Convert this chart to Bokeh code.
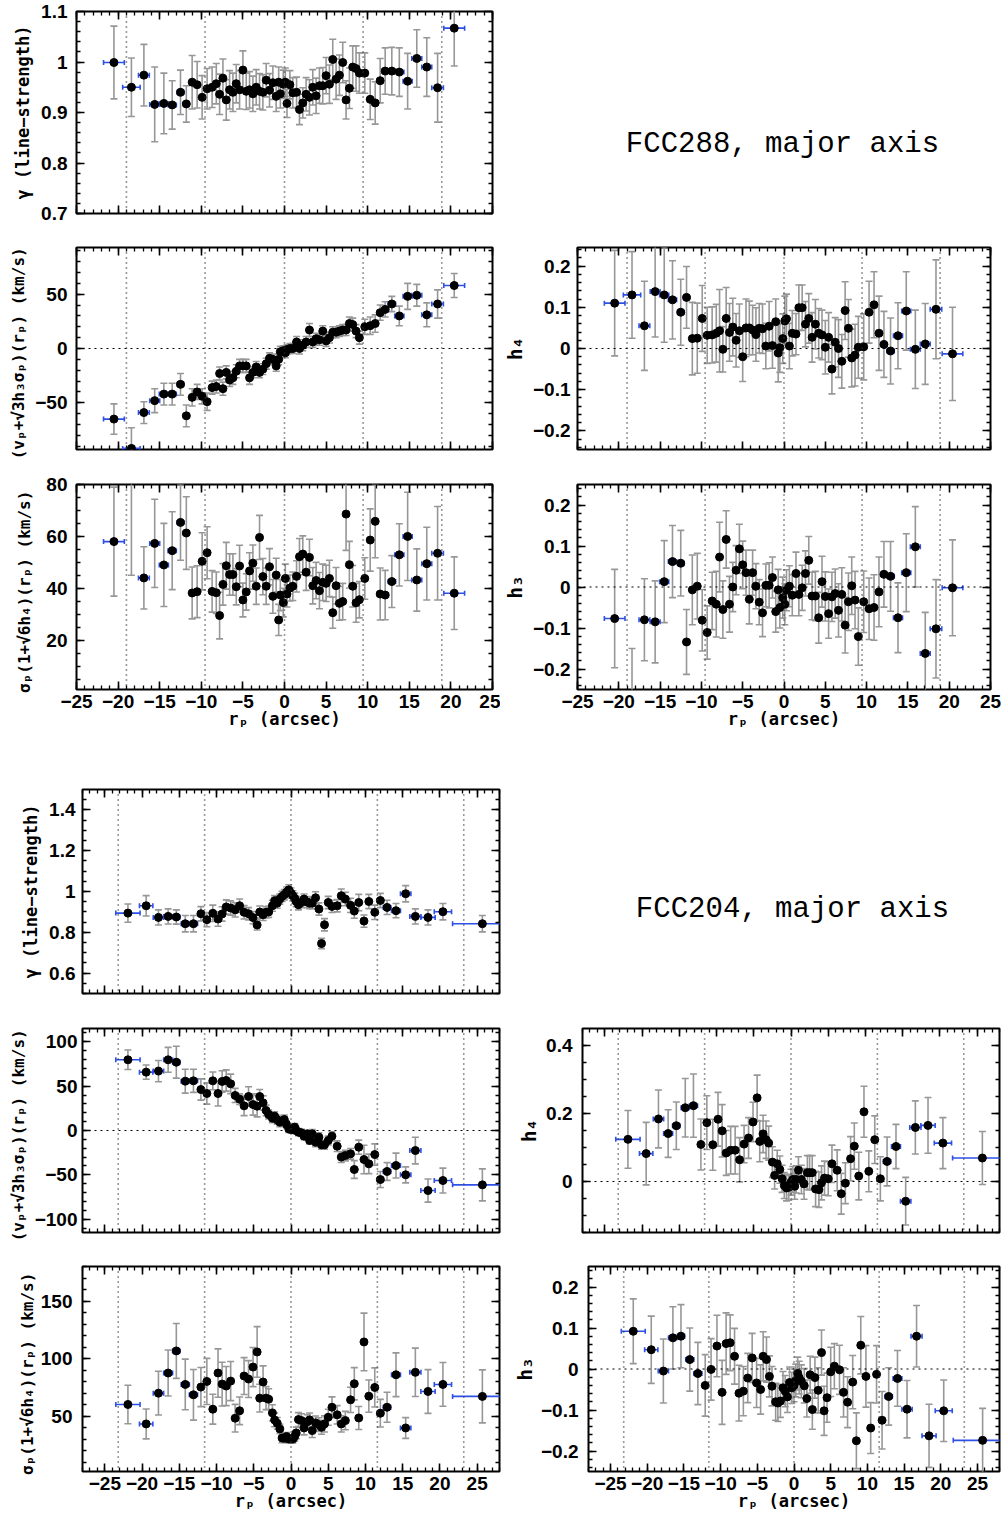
import numpy as np
from bokeh.plotting import figure
from bokeh.models import Range1d, FixedTicker, LinearAxis, Span, Label, ColumnDataSource, Spacer
from bokeh.layouts import column, row
from bokeh.embed import file_html
from bokeh.resources import INLINE

# ---------------- FCC288, major axis ----------------
r288 = [
    -20.5, -18.4, -16.9, -15.6, -14.5, -13.5, -12.5, -11.8, -11.1, -10.5,
    -9.9, -9.3, -8.7, -8.2, -7.8, -7.4, -7.0, -6.6, -6.2, -5.8,
    -5.4, -5.0, -4.6, -4.2, -3.8, -3.4, -3.0, -2.6, -2.2, -1.8,
    -1.4, -1.0, -0.7, -0.5, -0.15, 0.1, 0.3, 0.65, 1.0, 1.45,
    1.8, 2.2, 2.6, 3.0, 3.4, 3.8, 4.2, 4.6, 5.0, 5.4,
    5.8, 6.2, 6.6, 7.0, 7.4, 7.8, 8.2, 8.6, 9.0, 9.65,
    10.3, 10.9, 11.5, 12.1, 12.9, 13.8, 14.8, 15.9, 17.1, 18.4,
    20.4]
xe288 = [
    1.25, 1.05, 0.65, 0.6, 0.55, 0.5, 0.4, 0.35, 0, 0,
    0, 0, 0, 0, 0, 0, 0, 0, 0, 0,
    0, 0, 0, 0, 0, 0, 0, 0, 0, 0,
    0, 0, 0, 0, 0, 0, 0, 0, 0, 0,
    0, 0, 0, 0, 0, 0, 0, 0, 0, 0,
    0, 0, 0, 0, 0, 0, 0, 0, 0, 0,
    0, 0, 0.35, 0.4, 0.45, 0.55, 0.55, 0.6, 0.6, 0.7,
    1.25]
gam288 = [
    0.999, 0.95, 0.974, 0.916, 0.918, 0.915, 0.94, 0.917, 0.96, 0.955,
    0.93, 0.947, 0.95, 0.957, 0.936, 0.968, 0.925, 0.945, 0.94, 0.957,
    0.945, 0.984, 0.942, 0.945, 0.937, 0.95, 0.942, 0.94, 0.964, 0.944,
    0.959, 0.932, 0.96, 0.937, 0.956, 0.96, 0.918, 0.955, 0.939, 0.94,
    0.906, 0.919, 0.936, 0.93, 0.95, 0.933, 0.953, 0.953, 0.973, 0.956,
    1.005, 0.966, 0.974, 0.999, 0.925, 0.948, 0.99, 0.987, 0.978, 0.978,
    0.926, 0.919, 0.963, 0.982, 0.982, 0.98, 0.962, 1.007, 0.99, 0.949,
    1.067]
egam288 = [
    0.072, 0.058, 0.061, 0.074, 0.06, 0.048, 0.044, 0.036, 0.053, 0.046,
    0.043, 0.04, 0.04, 0.04, 0.04, 0.038, 0.04, 0.038, 0.038, 0.038,
    0.038, 0.038, 0.036, 0.036, 0.035, 0.035, 0.035, 0.035, 0.033, 0.033,
    0.033, 0.03, 0.03, 0.028, 0.028, 0.028, 0.028, 0.028, 0.03, 0.03,
    0.03, 0.03, 0.033, 0.035, 0.035, 0.035, 0.035, 0.036, 0.036, 0.038,
    0.04, 0.04, 0.04, 0.04, 0.038, 0.04, 0.042, 0.045, 0.04, 0.04,
    0.04, 0.042, 0.044, 0.046, 0.047, 0.048, 0.055, 0.057, 0.058, 0.068,
    0.075]
v288 = [
    -65, -92, -59, -48, -42, -42, -33, -62, -45, -40,
    -44, -49, -36, -35, -23, -37, -22, -29, -27, -21,
    -16, -16, -16, -27, -22, -17, -22, -19, -14, -9,
    -10, -16, -10, -3, -2, -4, -1, 0, 0, 6,
    0, 3, 6, 17, 6, 9, 8, 16, 7, 10,
    15, 15, 16, 17, 17, 23, 22, 16, 10, 20,
    21, 23, 33, 36, 41, 30, 48, 49, 31, 41,
    58]
ev288 = [
    14, 19, 10, 11, 10, 10, 10, 10, 8, 7,
    7, 8, 6, 6, 6, 6, 6, 6, 6, 6,
    6, 6, 6, 6, 5, 5, 5, 5, 5, 5,
    5, 5, 5, 5, 4.5, 4.5, 4.5, 4.5, 4.5, 5,
    5, 5, 5, 6, 5, 5, 5, 5, 5, 5,
    5, 5, 5, 5, 5, 6, 6, 6, 6, 7,
    8, 8, 7, 7, 7, 9, 12, 10, 11, 13,
    11]
h4_288 = [
    0.11, 0.13, 0.055, 0.138, 0.13, 0.118, 0.088, 0.124, 0.024, 0.025,
    0.073, 0.032, 0.033, 0.037, 0.043, -0.002, 0.073, 0.039, 0.052, 0.02,
    0.043, -0.02, 0.05, 0.05, 0.045, 0.034, 0.049, 0.048, 0.006, 0.054,
    0.007, 0.065, -0.011, 0.002, 0.024, 0.067, 0.072, 0.006, 0.037, 0.035,
    0.099, 0.099, 0.059, 0.073, 0.027, 0.059, 0.037, 0.033, 0.003, 0.027,
    -0.05, 0.015, 0.0, -0.031, 0.092, 0.049, -0.023, -0.016, 0.003, 0.004,
    0.088, 0.106, 0.037, 0.01, -0.006, 0.031, 0.091, -0.002, 0.011, 0.095,
    -0.013]
eh4_288 = [
    0.128, 0.105, 0.108, 0.11, 0.115, 0.095, 0.08, 0.075, 0.088, 0.085,
    0.08, 0.068, 0.068, 0.07, 0.1, 0.055, 0.075, 0.07, 0.07, 0.065,
    0.065, 0.06, 0.07, 0.065, 0.06, 0.065, 0.06, 0.06, 0.055, 0.06,
    0.055, 0.055, 0.07, 0.06, 0.06, 0.06, 0.06, 0.055, 0.055, 0.05,
    0.055, 0.055, 0.055, 0.06, 0.06, 0.06, 0.06, 0.06, 0.065, 0.06,
    0.06, 0.06, 0.07, 0.065, 0.07, 0.07, 0.07, 0.075, 0.075, 0.08,
    0.075, 0.08, 0.09, 0.08, 0.08, 0.08, 0.095, 0.095, 0.098, 0.12,
    0.113]
h3_288 = [
    -0.077, -0.29, -0.08, -0.085, 0.013, 0.062, 0.058, -0.134, -0.007, 0.002,
    -0.081, -0.111, -0.034, -0.042, 0.073, -0.055, 0.116, -0.042, 0.0, 0.041,
    0.093, 0.054, 0.035, -0.03, 0.035, 0.002, -0.037, -0.063, 0.004, 0.004,
    0.023, -0.06, -0.007, -0.05, -0.026, -0.042, -0.008, 0.002, -0.02, 0.033,
    -0.018, -0.002, 0.033, 0.065, -0.022, -0.022, -0.075, 0.013, -0.023, -0.065,
    -0.024, -0.016, -0.057, -0.018, -0.093, -0.036, 0.003, -0.032, -0.121, -0.036,
    -0.053, -0.05, -0.012, 0.031, 0.026, -0.075, 0.035, 0.098, -0.162, -0.102,
    -0.002]
eh3_288 = [
    0.12, 0.14, 0.1, 0.1, 0.1, 0.088, 0.08, 0.079, 0.085, 0.08,
    0.075, 0.065, 0.07, 0.08, 0.085, 0.07, 0.07, 0.068, 0.06, 0.06,
    0.06, 0.058, 0.055, 0.06, 0.055, 0.055, 0.055, 0.058, 0.052, 0.055,
    0.05, 0.05, 0.05, 0.05, 0.05, 0.05, 0.05, 0.05, 0.05, 0.052,
    0.052, 0.055, 0.055, 0.058, 0.058, 0.06, 0.062, 0.062, 0.06, 0.06,
    0.06, 0.06, 0.065, 0.065, 0.068, 0.07, 0.07, 0.07, 0.07, 0.075,
    0.075, 0.08, 0.085, 0.08, 0.085, 0.085, 0.095, 0.098, 0.1, 0.12,
    0.117]
s288 = [
    58, 86, 44, 57.3, 49, 54.5, 65.4, 61.3, 38.2, 38.7,
    50.4, 53.7, 38.8, 38.3, 29.5, 41.5, 48.7, 45.3, 45.3, 40.6,
    48.6, 35.5, 38.6, 46.7, 49.7, 40.8, 59.6, 44.5, 40.8, 48.3,
    36.9, 45.1, 27.8, 37.4, 34.5, 43.8, 37.8, 40.1, 40.8, 44.6,
    52.2, 53.2, 46.2, 51.9, 41, 43, 39.1, 42.3, 41.9, 43.8,
    30.6, 41, 34.2, 34.9, 68.6, 49.1, 40.8, 34.4, 35.6, 43.8,
    58.6, 65.8, 37.8, 37.4, 42.6, 52.9, 60, 43.2, 49.5, 53.5,
    38.1]
es288 = [
    21, 41, 12, 17, 16, 15, 14.6, 14, 10, 10,
    11, 10, 8, 8, 9, 8, 9, 8, 8, 7,
    8, 6.5, 7, 7, 7, 7, 8.5, 7, 7, 7,
    6.5, 6.5, 6, 6, 5.5, 5.5, 5, 5, 5.5, 6,
    7, 7, 7, 7, 7, 7, 7, 7, 7, 7,
    6, 7, 6.5, 7, 14, 9, 8, 7.5, 7, 8,
    12, 14, 10, 9.5, 10, 12, 17, 12, 14, 18,
    14]
re288 = [-19.0, -9.55, 0.0, 9.45, 18.9]

# ---------------- FCC204, major axis ----------------
r204 = [
    -21.9, -19.45, -17.8, -16.5, -15.4, -14.2, -13.1, -12.1, -11.3, -10.5,
    -9.8, -9.25, -8.7, -8.1, -7.5, -6.9, -6.3, -5.7, -5.1, -4.55,
    -4.2, -3.75, -3.35, -3.0, -2.5, -2.2, -1.85, -1.5, -1.2, -0.9,
    -0.6, -0.3, 0.0, 0.25, 0.5, 0.7, 1.0, 1.4, 1.75, 2.2,
    2.5, 2.85, 3.3, 3.75, 4.1, 4.5, 5.0, 5.5, 6.2, 6.75,
    7.3, 8.0, 8.5, 9.1, 9.8, 10.45, 11.25, 12.0, 12.9, 14.1,
    15.4, 16.7, 18.4, 20.4, 25.7]
xe204 = [
    1.63, 0.9, 0.7, 0.6, 0.5, 0.55, 0.55, 0, 0, 0,
    0, 0, 0, 0, 0, 0, 0, 0, 0, 0,
    0, 0, 0, 0, 0, 0, 0, 0, 0, 0,
    0, 0, 0, 0, 0, 0, 0, 0, 0, 0,
    0, 0, 0, 0, 0, 0, 0, 0, 0, 0,
    0, 0, 0, 0, 0, 0, 0.35, 0.4, 0.5, 0.6,
    0.7, 0.75, 0.96, 1.16, 4.0]
gam204 = [
    0.894, 0.93, 0.873, 0.878, 0.875, 0.842, 0.842, 0.891, 0.862, 0.893,
    0.865, 0.89, 0.924, 0.919, 0.91, 0.93, 0.898, 0.891, 0.872, 0.836,
    0.899, 0.886, 0.898, 0.9, 0.93, 0.955, 0.943, 0.963, 0.976, 0.984,
    0.997, 1.008, 0.992, 0.979, 0.967, 0.951, 0.935, 0.946, 0.963, 0.948,
    0.943, 0.943, 0.969, 0.914, 0.745, 0.837, 0.946, 0.927, 0.93, 0.979,
    0.963, 0.932, 0.904, 0.946, 0.855, 0.951, 0.898, 0.956, 0.922, 0.906,
    0.989, 0.878, 0.873, 0.901, 0.842]
egam204 = [
    0.045, 0.05, 0.037, 0.037, 0.035, 0.04, 0.04, 0.035, 0.035, 0.04,
    0.035, 0.035, 0.035, 0.035, 0.035, 0.033, 0.033, 0.03, 0.03, 0.025,
    0.03, 0.028, 0.028, 0.027, 0.027, 0.025, 0.025, 0.025, 0.025, 0.025,
    0.025, 0.025, 0.025, 0.025, 0.025, 0.025, 0.025, 0.025, 0.025, 0.027,
    0.027, 0.027, 0.03, 0.03, 0.025, 0.03, 0.03, 0.03, 0.03, 0.033,
    0.033, 0.035, 0.035, 0.04, 0.03, 0.035, 0.035, 0.035, 0.035, 0.035,
    0.04, 0.037, 0.037, 0.04, 0.04]
v204 = [
    79.7, 65.8, 67, 79.7, 77, 55.6, 56, 46.2, 41.7, 56,
    41.7, 55.3, 56.4, 52.6, 39.5, 35.3, 27.8, 38.3, 29.3, 27.4,
    38.3, 31.2, 22.6, 18, 13.9, 16.2, 12, 9.4, 10.5, 12.4,
    6.8, 1.9, 1.1, 1.1, 3.8, 0, -1.9, -2.6, -6.4, -3.8,
    -11.3, -3.8, -13.2, -7.5, -16.2, -16.2, -11.3, -6.4, -17.7, -30,
    -28.2, -26.3, -44, -18.8, -32.7, -37.6, -27.1, -55.3, -46.2, -39.5,
    -50, -22.6, -67.7, -56.4, -61.3]
ev204 = [
    11, 8, 12, 14, 18, 13.5, 13, 12, 12, 10,
    14, 12, 12, 11, 8, 6, 11, 11, 12, 12,
    8, 8, 6, 5, 5, 5, 5, 5, 5, 5,
    4, 4, 4, 4, 4, 4, 4, 4, 4, 4,
    4, 5, 5, 5, 5, 5, 5, 5, 6, 6,
    6, 6, 10, 8, 16, 11, 12, 9, 10, 14,
    9, 15, 13, 14, 18]
h4_204 = [
    0.124, 0.082, 0.184, 0.141, 0.164, 0.217, 0.223, 0.109, 0.173, 0.108,
    0.183, 0.149, 0.084, 0.092, 0.092, 0.064, 0.11, 0.128, 0.175, 0.246,
    0.118, 0.14, 0.123, 0.113, 0.057, 0.018, 0.052, 0.035, 0.008, -0.012,
    -0.019, -0.017, -0.002, 0.006, -0.014, 0.006, 0.033, 0.006, -0.007, 0.026,
    0.026, 0.026, -0.022, -0.024, -0.004, 0.01, 0.008, 0.052, 0.033, -0.036,
    -0.005, 0.067, 0.104, 0.016, 0.205, 0.03, 0.123, 0.008, 0.059, 0.103,
    -0.058, 0.159, 0.165, 0.113, 0.069]
eh4_204 = [
    0.085, 0.092, 0.085, 0.07, 0.07, 0.086, 0.093, 0.075, 0.079, 0.075,
    0.079, 0.077, 0.066, 0.07, 0.07, 0.065, 0.055, 0.06, 0.058, 0.067,
    0.06, 0.055, 0.055, 0.05, 0.045, 0.04, 0.04, 0.04, 0.04, 0.038,
    0.038, 0.038, 0.038, 0.038, 0.038, 0.04, 0.04, 0.042, 0.045, 0.05,
    0.05, 0.05, 0.052, 0.052, 0.05, 0.05, 0.05, 0.055, 0.06, 0.06,
    0.06, 0.065, 0.068, 0.07, 0.075, 0.06, 0.07, 0.065, 0.072, 0.065,
    0.07, 0.078, 0.082, 0.075, 0.078]
h3_204 = [
    0.092, 0.047, -0.005, 0.076, 0.08, 0.023, -0.011, -0.04, -0.001, 0.056,
    -0.057, 0.062, 0.064, 0.031, -0.059, -0.054, -0.022, 0.027, -0.034, -0.05,
    0.031, 0.023, -0.018, -0.042, -0.08, -0.083, -0.078, -0.046, -0.054, -0.068,
    -0.033, -0.046, -0.04, -0.028, -0.011, -0.021, -0.03, -0.041, -0.072, -0.014,
    -0.099, -0.021, -0.052, 0.04, -0.102, -0.07, -0.007, 0.007, -0.002, -0.057,
    -0.081, -0.032, -0.175, 0.058, -0.018, -0.144, -0.013, -0.125, -0.067, -0.023,
    -0.098, 0.08, -0.163, -0.102, -0.174]
eh3_204 = [
    0.079, 0.082, 0.078, 0.076, 0.077, 0.077, 0.076, 0.075, 0.075, 0.075,
    0.078, 0.075, 0.068, 0.068, 0.068, 0.06, 0.06, 0.06, 0.06, 0.06,
    0.06, 0.055, 0.05, 0.048, 0.045, 0.045, 0.04, 0.04, 0.038, 0.038,
    0.038, 0.038, 0.04, 0.04, 0.04, 0.04, 0.04, 0.042, 0.045, 0.045,
    0.048, 0.05, 0.055, 0.055, 0.06, 0.06, 0.06, 0.055, 0.06, 0.06,
    0.062, 0.065, 0.068, 0.07, 0.075, 0.062, 0.07, 0.07, 0.07, 0.068,
    0.07, 0.075, 0.077, 0.075, 0.078]
s204 = [
    60.2, 43.3, 70, 87.5, 106.7, 77.6, 68.6, 75.3, 80.2, 56.1,
    87.5, 77.9, 76.2, 80.5, 48.3, 54.7, 84.9, 82.3, 92.7, 105.8,
    65.7, 79.7, 65.7, 64.8, 52.9, 46.8, 43.9, 39, 31.1, 30.8,
    32.3, 30.2, 30.2, 30.2, 32.6, 35.5, 47.1, 46.2, 39.8, 45.3,
    46.8, 37.5, 44.2, 42.7, 40.4, 43.3, 49.1, 57.8, 51.2, 43.3,
    46.2, 64.2, 78.2, 48.5, 114.5, 67.4, 75, 52.6, 57.8, 86,
    39.8, 88.1, 71.5, 77.6, 67.2]
es204 = [
    16.7, 13, 19, 20, 23.8, 22, 22, 17, 20, 13,
    21, 19, 17, 17, 12, 12, 16, 16, 17, 22,
    12, 14, 10, 9, 7, 6, 5, 4, 4, 3.5,
    3.5, 3.5, 3.5, 3.5, 4, 5, 6, 6, 6, 6,
    6, 6, 6, 6, 6, 7, 7, 9, 8, 7,
    8, 11, 14, 10, 25, 14, 17, 12, 13, 19,
    9, 21, 19, 19, 23]
re204 = [-23.2, -11.6, 0.0, 11.6, 23.2]

# ---------------- tick labels ----------------
x_ticks = [-25, -20, -15, -10, -5, 0, 5, 10, 15, 20, 25]
x_labels = ["−25", "−20", "−15", "−10", "−5", "0", "5", "10", "15", "20", "25"]
gam288_ticks = [0.7, 0.8, 0.9, 1.0, 1.1]
gam288_labels = ["0.7", "0.8", "0.9", "1", "1.1"]
v288_ticks = [-50, 0, 50]
v288_labels = ["−50", "0", "50"]
h_ticks = [-0.2, -0.1, 0.0, 0.1, 0.2]
h_labels = ["−0.2", "−0.1", "0", "0.1", "0.2"]
s288_ticks = [20, 40, 60, 80]
s288_labels = ["20", "40", "60", "80"]
gam204_ticks = [0.6, 0.8, 1.0, 1.2, 1.4]
gam204_labels = ["0.6", "0.8", "1", "1.2", "1.4"]
v204_ticks = [-100, -50, 0, 50, 100]
v204_labels = ["−100", "−50", "0", "50", "100"]
h4_204_ticks = [0.0, 0.2, 0.4]
h4_204_labels = ["0", "0.2", "0.4"]
s204_ticks = [50, 100, 150]
s204_labels = ["50", "100", "150"]

GRAY = "#979797"
BLUE = "#2d50e6"
TICK_FONT = "Liberation Sans"
LAB_FONT = "DejaVu Sans Mono"


def style_axis(ax, major, minor, labels, standoff):
    ax.ticker = FixedTicker(ticks=list(major), minor_ticks=[float(m) for m in minor])
    ax.axis_line_color = None
    ax.major_tick_in = 8
    ax.major_tick_out = 0
    ax.minor_tick_in = 4
    ax.minor_tick_out = 0
    ax.major_tick_line_color = "black"
    ax.minor_tick_line_color = "black"
    ax.major_tick_line_width = 1.6
    ax.minor_tick_line_width = 1.3
    if labels is None:
        ax.major_label_text_font_size = "0px"
        ax.major_label_text_color = None
        ax.major_label_text_alpha = 0
        ax.major_label_standoff = 0
    else:
        ax.major_label_overrides = {float(v): s for v, s in zip(major, labels)}
        ax.major_label_text_font = TICK_FONT
        ax.major_label_text_font_size = "19px"
        ax.major_label_text_font_style = "bold"
        ax.major_label_text_color = "black"
        ax.major_label_standoff = standoff


def panel(w, h, bl, br, bt, bb, xr, yr, xminor, xlabels, ymaj, ymin_, ylab,
          ytitle, ytitle_so, ylab_so, xtitle=False, zero=False, vlines=(), tsize="17px"):
    p = figure(width=w, height=h, x_range=Range1d(*xr), y_range=Range1d(*yr),
               output_backend="svg", toolbar_location=None,
               min_border_left=bl, min_border_right=br,
               min_border_top=bt, min_border_bottom=bb)
    p.grid.visible = False
    p.outline_line_color = "black"
    p.outline_line_width = 2
    p.outline_line_alpha = 1
    xb = p.xaxis[0]
    yl = p.yaxis[0]
    style_axis(xb, x_ticks, xminor, x_labels if xlabels else None, 5)
    style_axis(yl, ymaj, ymin_, ylab, ylab_so)
    xt = LinearAxis()
    style_axis(xt, x_ticks, xminor, None, 0)
    p.add_layout(xt, "above")
    yrr = LinearAxis()
    style_axis(yrr, ymaj, ymin_, None, 0)
    p.add_layout(yrr, "right")
    yl.axis_label = ytitle
    yl.axis_label_text_font = LAB_FONT
    yl.axis_label_text_font_size = tsize
    yl.axis_label_text_font_style = "bold"
    yl.axis_label_text_color = "black"
    yl.axis_label_standoff = ytitle_so
    if xtitle:
        xb.axis_label = "rₚ (arcsec)"
        xb.axis_label_text_font = LAB_FONT
        xb.axis_label_text_font_size = "17px"
        xb.axis_label_text_font_style = "bold"
        xb.axis_label_text_color = "black"
        xb.axis_label_standoff = -2
    for v in vlines:
        p.add_layout(Span(location=v, dimension="height", line_color="#333333",
                          line_dash="1 4", line_width=1.6))
    if zero:
        p.add_layout(Span(location=0, dimension="width", line_color="black",
                          line_dash="2 4", line_width=1.2))
    return p


def draw(p, r, y, e, xe):
    n = min(len(r), len(y), len(e), len(xe))
    r = np.asarray(r[:n], float)
    y = np.asarray(y[:n], float)
    e = np.asarray(e[:n], float)
    xe = np.asarray(xe[:n], float)
    src = ColumnDataSource(dict(x=r, y=y, lo=y - e, hi=y + e))
    p.segment(x0="x", y0="lo", x1="x", y1="hi", source=src, line_color=GRAY, line_width=1.6)
    p.scatter(x="x", y="lo", source=src, marker="dash", size=7, line_color=GRAY, line_width=1.6)
    p.scatter(x="x", y="hi", source=src, marker="dash", size=7, line_color=GRAY, line_width=1.6)
    m = xe > 0
    bsrc = ColumnDataSource(dict(x0=r[m] - xe[m], x1=r[m] + xe[m], y=y[m]))
    p.segment(x0="x0", y0="y", x1="x1", y1="y", source=bsrc, line_color=BLUE, line_width=1.6)
    p.scatter(x="x0", y="y", source=bsrc, marker="dash", angle=np.pi / 2, size=5,
              line_color=BLUE, line_width=1.6)
    p.scatter(x="x1", y="y", source=bsrc, marker="dash", angle=np.pi / 2, size=5,
              line_color=BLUE, line_width=1.6)
    p.scatter(x="x", y="y", source=src, size=8, fill_color="black", line_color="black")


def text_fig(w, h, txt, x, y):
    p = figure(width=w, height=h, x_range=Range1d(0, w), y_range=Range1d(h, 0),
               output_backend="svg", toolbar_location=None, min_border=0)
    p.axis.visible = False
    p.grid.visible = False
    p.outline_line_color = None
    p.add_layout(Label(x=x, y=y, text=txt, text_font="Liberation Mono",
                       text_font_size="29px", text_align="center",
                       text_baseline="middle", text_color="black"))
    return p


xmin288 = np.arange(-25, 26, 1)
xmin204 = np.arange(-28, 29, 1)

# ---- FCC288 ----
p_g288 = panel(500, 230, 76, 8, 11, 17, (-25, 25), (0.7, 1.1), xmin288, False,
               gam288_ticks, np.arange(0.7, 1.1001, 0.02), gam288_labels,
               "γ (line−strength)", 5, 9, vlines=re288)
draw(p_g288, r288, gam288, egam288, xe288)
t288 = text_fig(507, 230, "FCC288, major axis", 282, 151)

p_v288 = panel(500, 237, 76, 8, 17, 18, (-25, 25), (-93, 93), xmin288, False,
               v288_ticks, np.arange(-90, 91, 10), v288_labels,
               "(vₚ+√3h₃σₚ)(rₚ)  (km/s)", 4, 9, zero=True, vlines=re288, tsize="16px")
draw(p_v288, r288, v288, ev288, xe288)
p_h4_288 = panel(507, 237, 74, 17, 17, 18, (-25, 25), (-0.245, 0.245), xmin288, False,
                 h_ticks, np.arange(-0.24, 0.2401, 0.02), h_labels,
                 "h₄", 4, 7, zero=True, vlines=re288, tsize="19px")
draw(p_h4_288, r288, h4_288, eh4_288, xe288)

p_s288 = panel(500, 273, 76, 8, 17, 51, (-25, 25), (1, 80), xmin288, True,
               s288_ticks, np.arange(5, 81, 5), s288_labels,
               "σₚ(1+√6h₄)(rₚ)  (km/s)", 9, 9, xtitle=True, vlines=re288, tsize="16px")
draw(p_s288, r288, s288, es288, xe288)
p_h3_288 = panel(507, 273, 74, 17, 17, 51, (-25, 25), (-0.25, 0.25), xmin288, True,
                 h_ticks, np.arange(-0.24, 0.2401, 0.02), h_labels,
                 "h₃", 4, 7, xtitle=True, zero=True, vlines=re288, tsize="19px")
draw(p_h3_288, r288, h3_288, eh3_288, xe288)

# ---- FCC204 ----
p_g204 = panel(510, 240, 82, 11, 19, 17, (-28, 28), (0.5, 1.5), xmin204, False,
               gam204_ticks, np.arange(0.5, 1.5001, 0.05), gam204_labels,
               "γ (line−strength)", 5, 7, vlines=re204)
draw(p_g204, r204, gam204, egam204, xe204)
t204 = text_fig(497, 240, "FCC204, major axis", 282, 141)

p_v204 = panel(510, 238, 82, 11, 18, 16, (-28, 28), (-115, 115), xmin204, False,
               v204_ticks, np.arange(-110, 111, 10), v204_labels,
               "(vₚ+√3h₃σₚ)(rₚ)  (km/s)", 4, 5, zero=True, vlines=re204, tsize="16px")
draw(p_v204, r204, v204, ev204, xe204)
p_h4_204 = panel(497, 238, 72, 8, 18, 16, (-28, 28), (-0.15, 0.45), xmin204, False,
                 h4_204_ticks, np.arange(-0.15, 0.4501, 0.05), h4_204_labels,
                 "h₄", 3, 10, zero=True, vlines=re204, tsize="19px")
draw(p_h4_204, r204, h4_204, eh4_204, xe204)

p_s204 = panel(510, 276, 82, 11, 18, 53, (-28, 28), (2, 180), xmin204, True,
               s204_ticks, np.arange(10, 181, 10), s204_labels,
               "σₚ(1+√6h₄)(rₚ)  (km/s)", 1, 10, xtitle=True, vlines=re204, tsize="16px")
draw(p_s204, r204, s204, es204, xe204)
p_h3_204 = panel(497, 276, 72, 8, 18, 53, (-28, 28), (-0.25, 0.25), xmin204, True,
                 h_ticks, np.arange(-0.24, 0.2401, 0.02), h_labels,
                 "h₃", 2, 10, xtitle=True, zero=True, vlines=re204, tsize="19px")
draw(p_h3_204, r204, h3_204, eh3_204, xe204)

layout = column(
    row(p_g288, t288),
    row(p_v288, p_h4_288),
    row(p_s288, p_h3_288),
    Spacer(width=1007, height=30),
    row(p_g204, t204),
    row(p_v204, p_h4_204),
    row(p_s204, p_h3_204),
)

open("out.html", "w").write(file_html(layout, INLINE))
